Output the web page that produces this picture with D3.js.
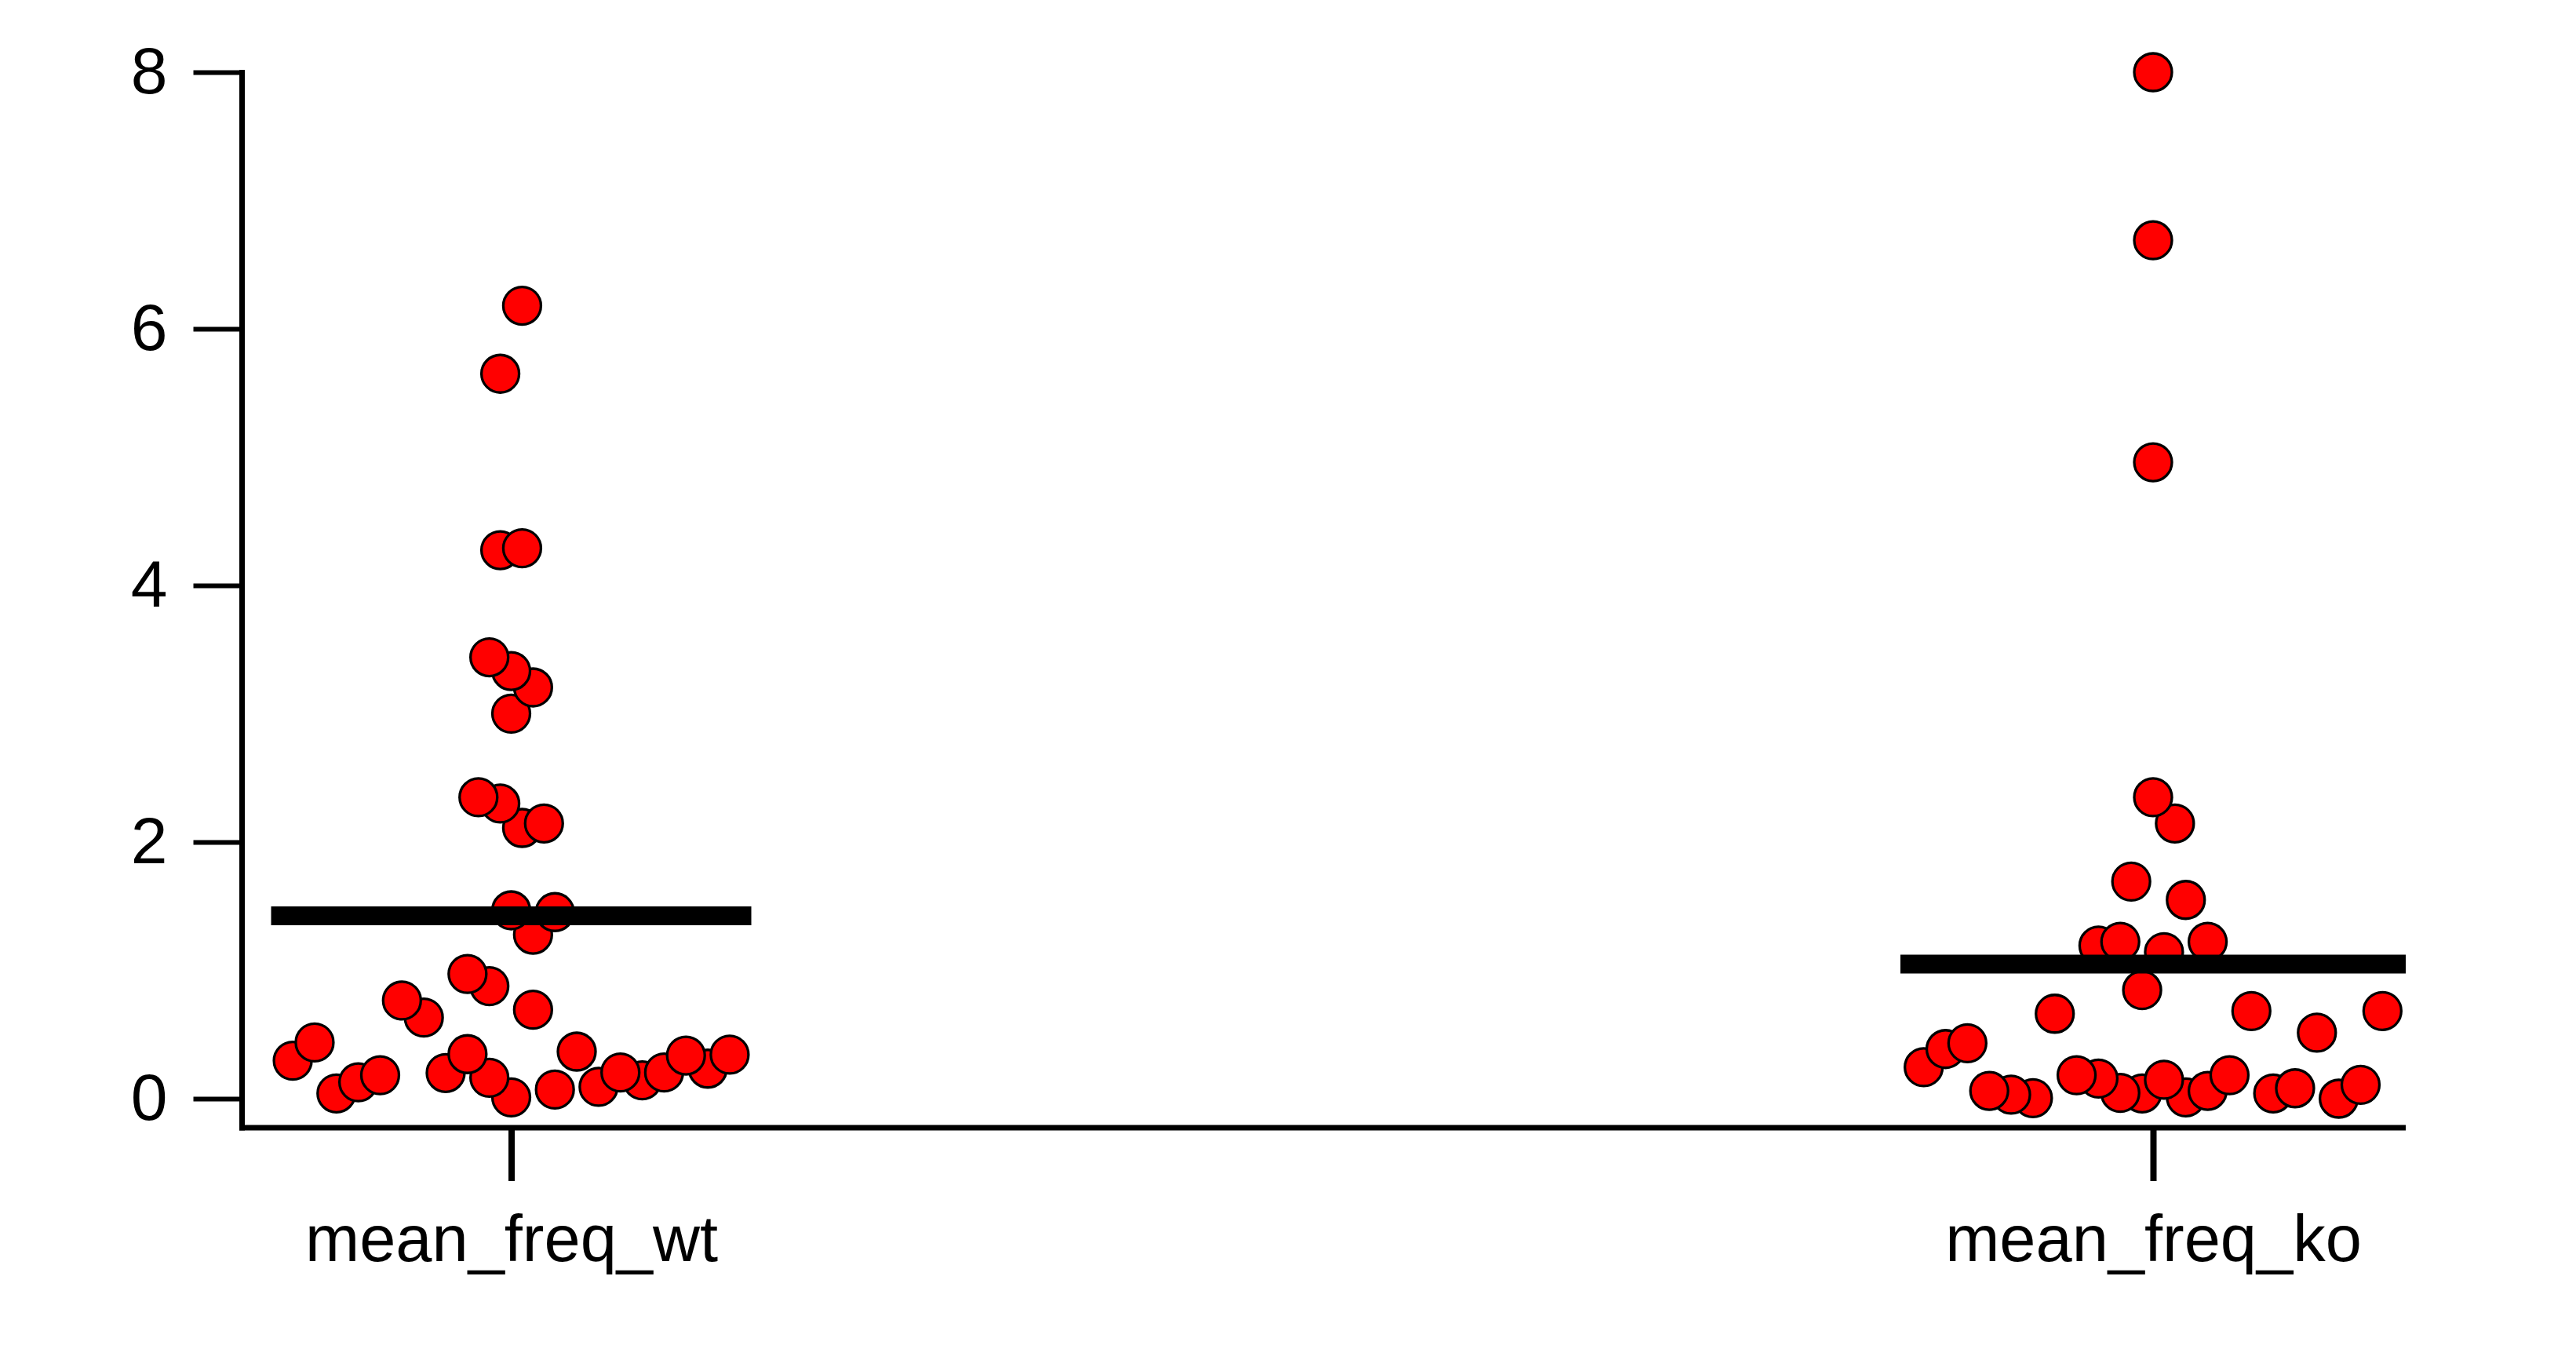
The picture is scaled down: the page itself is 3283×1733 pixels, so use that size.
<!DOCTYPE html>
<html>
<head>
<meta charset="utf-8">
<script src="https://cdn.jsdelivr.net/npm/d3@7"></script>
<style>
  html, body { margin: 0; padding: 0; background: #fff; }
  text { font-family: "Liberation Sans", Arial, sans-serif; fill: #000; }
</style>
</head>
<body>
<svg id="chart" width="3283" height="1733"></svg>
<script>
// ---- data ----
const categories = ["mean_freq_wt", "mean_freq_ko"];
const wtValues = [6.18, 5.65, 4.275, 4.29, 3.44, 3.333, 3.205, 3.001, 2.349, 2.30, 2.11, 2.145,
  1.468, 1.454, 1.278, 0.972, 0.877, 0.765, 0.632, 0.693, 0.296, 0.438, 0.041, 0.128, 0.183,
  0.2, 0.347, 0.163, 0.010, 0.071, 0.367, 0.092, 0.204, 0.143, 0.204, 0.336, 0.234, 0.343];
const wtSlots = [0.5, -0.5, -0.5, 0.5, -1, 0, 1, 0, -1.5, -0.5, 0.5, 1.5,
  0, 2, 1, -2, -1, -5, -4, 1, -10, -9, -8, -7, -6,
  -3, -2, -1, 0, 2, 3, 4, 5, 6, 7, 8, 9, 10];
const koValues = [8.0, 6.69, 4.96, 2.349, 2.145, 1.692, 1.549, 1.193, 1.223, 1.142, 1.223,
  0.846, 0.662, 0.683, 0.514, 0.683, 0.245, 0.387, 0.432, 0.061, 0.031, 0.004, 0.183, 0.157,
  0.045, 0.041, 0.147, 0.010, 0.061, 0.183, 0.041, 0.081, 0.0, 0.108];
const koSlots = [0, 0, 0, 0, 1, -1, 1.5, -2.5, -1.5, 0.5, 2.5,
  -0.5, -4.5, 4.5, 7.5, 10.5, -10.5, -9.5, -8.5, -7.5, -6.5, -5.5, -3.5, -2.5,
  -1.5, -0.5, 0.5, 1.5, 2.5, 3.5, 5.5, 6.5, 8.5, 9.5];
const means = [1.425, 1.049];
const yTicks = [0, 2, 4, 6, 8];

// ---- styles / layout ----
const W = 3283, H = 1733;
const pointR = 24, slotW = pointR * 1.16;
const meanHalf = [306, 322];
const svg = d3.select("#chart");
svg.append("rect").attr("width", W).attr("height", H).attr("fill", "#fff");

const x = d3.scalePoint().domain(categories).range([651.5, 2744]);
const y = d3.scaleLinear().domain([0, 8]).range([1400, 92]);
const axisY = 1437, axisX = 308.5, axisRight = 3066;

// points
const groups = [
  { cat: categories[0], vals: wtValues, slots: wtSlots },
  { cat: categories[1], vals: koValues, slots: koSlots }
];
const pts = [];
groups.forEach(g => g.vals.forEach((v, i) => pts.push({ cat: g.cat, v, s: g.slots[i] })));
pts.sort((a, b) => a.v - b.v);

svg.append("g").selectAll("circle").data(pts).join("circle")
  .attr("cx", d => x(d.cat) + d.s * slotW)
  .attr("cy", d => y(d.v))
  .attr("r", pointR)
  .attr("fill", "#ff0000")
  .attr("stroke", "#000")
  .attr("stroke-width", 3.3);

// mean lines
svg.append("g").selectAll("line").data(categories).join("line")
  .attr("x1", (d, i) => x(d) - meanHalf[i])
  .attr("x2", (d, i) => x(d) + meanHalf[i])
  .attr("y1", (d, i) => y(means[i]))
  .attr("y2", (d, i) => y(means[i]))
  .attr("stroke", "#000")
  .attr("stroke-width", 24);

// y axis
const yAxisG = svg.append("g").attr("transform", `translate(${axisX},0)`)
  .call(d3.axisLeft(y).tickValues(yTicks).tickSize(62).tickPadding(33).tickFormat(d3.format("d")));
yAxisG.select(".domain").remove();
yAxisG.selectAll(".tick line").attr("stroke", "#000").attr("stroke-width", 6);
yAxisG.selectAll(".tick text").attr("font-size", 84).attr("font-family", "Liberation Sans, Arial, sans-serif");
svg.append("line").attr("x1", axisX).attr("x2", axisX)
  .attr("y1", y(8) - 3).attr("y2", axisY + 3.5)
  .attr("stroke", "#000").attr("stroke-width", 7);

// x axis
const xAxisG = svg.append("g").attr("transform", `translate(0,${axisY})`)
  .call(d3.axisBottom(x).tickSize(68).tickPadding(43));
xAxisG.select(".domain").remove();
xAxisG.selectAll(".tick line").attr("stroke", "#000").attr("stroke-width", 8);
xAxisG.selectAll(".tick text").attr("font-size", 83).attr("font-family", "Liberation Sans, Arial, sans-serif");
svg.append("line").attr("x1", axisX - 3.5).attr("x2", axisRight)
  .attr("y1", axisY).attr("y2", axisY)
  .attr("stroke", "#000").attr("stroke-width", 7);
</script>
</body>
</html>
